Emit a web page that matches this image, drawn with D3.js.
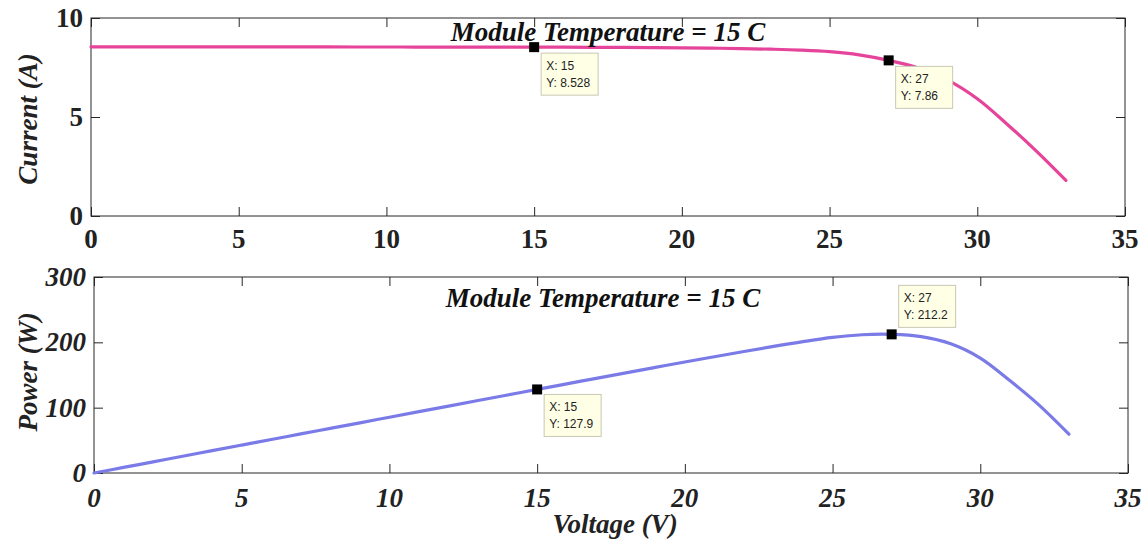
<!DOCTYPE html>
<html>
<head>
<meta charset="utf-8">
<script src="https://cdn.jsdelivr.net/npm/d3@7"></script>
<style>
  html, body { margin: 0; padding: 0; background: #fff; }
  svg { display: block; }
  .serif { font-family: "Liberation Serif", "Times New Roman", serif; font-weight: bold; }
  .tip { font-family: "Liberation Sans", Arial, sans-serif; font-size: 12px; fill: #222; }
</style>
</head>
<body>
<svg id="chart" width="1148" height="547"></svg>
<script>
// PV module characteristics at 15 C module temperature
const voltage = [0, 1, 2, 3, 4, 5, 6, 7, 8, 9, 10, 11, 12, 13, 14, 15, 16, 17, 18, 19, 20,
                 21, 22, 23, 24, 25, 26, 27, 28, 29, 30, 31, 32, 33];
const current = [8.545, 8.544, 8.543, 8.542, 8.541, 8.540, 8.539, 8.538, 8.537, 8.536, 8.535,
                 8.534, 8.533, 8.532, 8.530, 8.528, 8.525, 8.521, 8.515, 8.506, 8.494,
                 8.478, 8.456, 8.425, 8.38, 8.30, 8.14, 7.86, 7.48, 6.86, 5.92, 4.65, 3.28, 1.80];
const power = [0, 8.5, 17.1, 25.6, 34.2, 42.7, 51.2, 59.8, 68.3, 76.8, 85.4,
               93.9, 102.4, 110.9, 119.4, 127.9, 136.4, 144.9, 153.3, 161.6, 169.9,
               178.0, 186.0, 193.8, 201.1, 207.5, 211.6, 212.2, 208.8, 197.8, 176.0, 141.5, 103.5, 59.4];

const xTicks = [0, 5, 10, 15, 20, 25, 30, 35];
const currentTicks = [0, 5, 10];
const powerTicks = [0, 100, 200, 300];

const currentTips = [{ x: 15, y: 8.528, dx: 7, dy: 6 }, { x: 27, y: 7.86, dx: 7, dy: 6 }];
const powerTips = [{ x: 15, y: 127.9, dx: 7, dy: 5 }, { x: 27, y: 212.2, dx: 7, dy: -49 }];

const titleText = "Module Temperature = 15 C";

const svg = d3.select("#chart");
svg.append("rect").attr("width", 1148).attr("height", 547).attr("fill", "#fff");

function panel(opts) {
  const { left, right, top, bottom, yDomain, yTicks, values, color, tips,
          tickItalic, yLabel, labelY, titleX, titleY, xTickY } = opts;
  const x = d3.scaleLinear().domain([0, 35]).range([left, right]);
  const y = d3.scaleLinear().domain(yDomain).range([bottom, top]);
  const g = svg.append("g");
  const axisColor = "#262626";
  const tickLen = 9;

  // plot frame
  g.append("rect").attr("x", left).attr("y", top)
    .attr("width", right - left).attr("height", bottom - top)
    .attr("fill", "none").attr("stroke", axisColor).attr("stroke-width", 1);

  // inward ticks on all four sides
  const axBottom = d3.axisBottom(x).tickValues(xTicks).tickSize(-tickLen).tickFormat("");
  const axTop = d3.axisTop(x).tickValues(xTicks).tickSize(-tickLen).tickFormat("");
  const axLeft = d3.axisLeft(y).tickValues(yTicks).tickSize(-tickLen).tickFormat("");
  const axRight = d3.axisRight(y).tickValues(yTicks).tickSize(-tickLen).tickFormat("");
  [[axBottom, `translate(0,${bottom})`], [axTop, `translate(0,${top})`],
   [axLeft, `translate(${left},0)`], [axRight, `translate(${right},0)`]].forEach(([ax, tr]) => {
    const a = g.append("g").attr("transform", tr).call(ax);
    a.select(".domain").remove();
    a.selectAll("line").attr("stroke", axisColor);
  });

  // tick labels
  g.selectAll(".xl").data(xTicks).join("text")
    .attr("class", "serif")
    .attr("x", d => x(d)).attr("y", xTickY)
    .attr("text-anchor", "middle").attr("dominant-baseline", "central")
    .attr("font-size", 27).attr("font-style", tickItalic ? "italic" : "normal")
    .attr("fill", "#222").text(d => d);
  g.selectAll(".yl").data(yTicks).join("text")
    .attr("class", "serif")
    .attr("x", left - 8).attr("y", d => y(d))
    .attr("text-anchor", "end").attr("dominant-baseline", "central")
    .attr("font-size", 27).attr("font-style", tickItalic ? "italic" : "normal")
    .attr("fill", "#222").text(d => d);

  // y-axis label
  g.append("text").attr("class", "serif")
    .attr("transform", `translate(28,${labelY}) rotate(-90)`)
    .attr("text-anchor", "middle").attr("dominant-baseline", "central")
    .attr("font-size", 27).attr("font-style", "italic").attr("fill", "#222")
    .text(yLabel);

  // curve
  const line = d3.line().x((d, i) => x(voltage[i])).y(d => y(d)).curve(d3.curveCatmullRom.alpha(0.5));
  g.append("path").datum(values).attr("d", line)
    .attr("fill", "none").attr("stroke", color).attr("stroke-width", 3.2)
    .attr("stroke-linejoin", "round").attr("stroke-linecap", "round");

  // title
  g.append("text").attr("class", "serif")
    .attr("x", titleX).attr("y", titleY).attr("text-anchor", "middle")
    .attr("font-size", 27).attr("font-style", "italic").attr("fill", "#111")
    .text(titleText);

  // data tips
  tips.forEach(t => {
    const px = x(t.x), py = y(t.y);
    const tg = g.append("g");
    const bx = px + t.dx, by = py + t.dy;
    tg.append("rect").attr("x", bx).attr("y", by).attr("width", 57).attr("height", 42)
      .attr("fill", "#ffffe6").attr("stroke", "#c8c8b4").attr("stroke-width", 1);
    tg.append("text").attr("class", "tip").attr("x", bx + 5).attr("y", by + 17).text(`X: ${t.x}`);
    tg.append("text").attr("class", "tip").attr("x", bx + 5).attr("y", by + 34).text(`Y: ${t.y}`);
    g.append("rect").attr("x", px - 5).attr("y", py - 5).attr("width", 10).attr("height", 10)
      .attr("fill", "#000");
  });
  return { x, y };
}

panel({
  left: 91, right: 1125, top: 18, bottom: 216,
  yDomain: [0, 10], yTicks: currentTicks, values: current, color: "#e6439a",
  tips: currentTips, tickItalic: false, yLabel: "Current (A)", labelY: 119,
  titleX: 608, titleY: 41, xTickY: 239
});

panel({
  left: 94, right: 1128, top: 277, bottom: 473,
  yDomain: [0, 300], yTicks: powerTicks, values: power, color: "#7b7be8",
  tips: powerTips, tickItalic: true, yLabel: "Power (W)", labelY: 372,
  titleX: 603, titleY: 307, xTickY: 498
});

svg.append("text").attr("class", "serif")
  .attr("x", 615).attr("y", 524).attr("text-anchor", "middle").attr("dominant-baseline", "central")
  .attr("font-size", 27).attr("font-style", "italic").attr("fill", "#222")
  .text("Voltage (V)");
</script>
</body>
</html>
